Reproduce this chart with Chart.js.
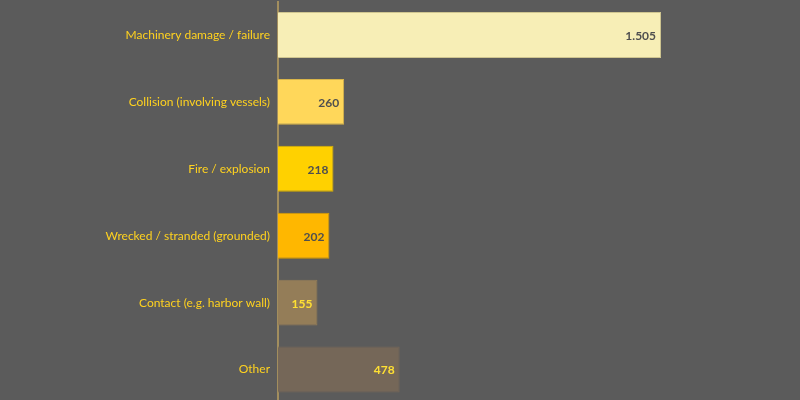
<!DOCTYPE html>
<html>
<head>
<meta charset="utf-8">
<script src="https://cdn.jsdelivr.net/npm/chart.js@4"></script>
<style>
  html, body { margin: 0; padding: 0; background: #5b5b5b; overflow: hidden; }
  #wrap { width: 800px; height: 403px; }
</style>
</head>
<body>
<div id="wrap"><canvas id="bar-chart"></canvas></div>
<script>
// Causes of marine losses
var categories = [
  "Machinery damage / failure",
  "Collision (involving vessels)",
  "Fire / explosion",
  "Wrecked / stranded (grounded)",
  "Contact (e.g. harbor wall)",
  "Other"
];
var values = [1505, 260, 218, 202, 155, 478];
var valueLabels = ["1.505", "260", "218", "202", "155", "478"];

var barColors = ["#f7eeb6", "#ffd75a", "#ffd100", "#ffb700", "#947d58", "#756758"];
var barBorders = ["#cfc590", "#d9b54a", "#d9b000", "#d99c00", "#947d58", "#756758"];
var labelColors = ["#4f4f4f", "#4f4f4f", "#4f4f4f", "#4f4f4f", "#ffe033", "#ffe033"];

// draws the value inside the end of each bar
var valuePlugin = {
  id: "valuePlugin",
  afterDatasetsDraw: function(chart) {
    var ctx = chart.ctx;
    var meta = chart.getDatasetMeta(0);
    ctx.save();
    ctx.font = "bold 12px Lato, sans-serif";
    ctx.textAlign = "right";
    ctx.textBaseline = "middle";
    meta.data.forEach(function(bar, i) {
      ctx.fillStyle = labelColors[i];
      ctx.fillText(valueLabels[i], bar.x - 5, bar.y + 1);
    });
    ctx.restore();
  }
};

new Chart(document.getElementById("bar-chart"), {
  type: "bar",
  data: {
    labels: categories,
    datasets: [{
      data: values,
      backgroundColor: barColors,
      borderColor: barBorders,
      borderWidth: 1,
      barPercentage: 0.687,
      categoryPercentage: 1
    }]
  },
  options: {
    indexAxis: "y",
    responsive: true,
    maintainAspectRatio: false,
    animation: false,
    layout: { padding: { top: 1.5, bottom: 0, left: 0, right: 0 } },
    plugins: {
      legend: { display: false },
      tooltip: { enabled: false }
    },
    scales: {
      x: {
        display: false,
        min: 0,
        max: 2051
      },
      y: {
        afterFit: function(scale) {
          scale.width = 278;
          scale.paddingTop = 0;
          scale.paddingBottom = 0;
        },
        grid: { display: false, drawTicks: false },
        border: { display: true, color: "#a28e5e", width: 2 },
        ticks: {
          color: "#ffd21f",
          padding: 8,
          font: { family: "Lato, sans-serif", size: 12 }
        }
      }
    }
  },
  plugins: [valuePlugin]
});
</script>
</body>
</html>
